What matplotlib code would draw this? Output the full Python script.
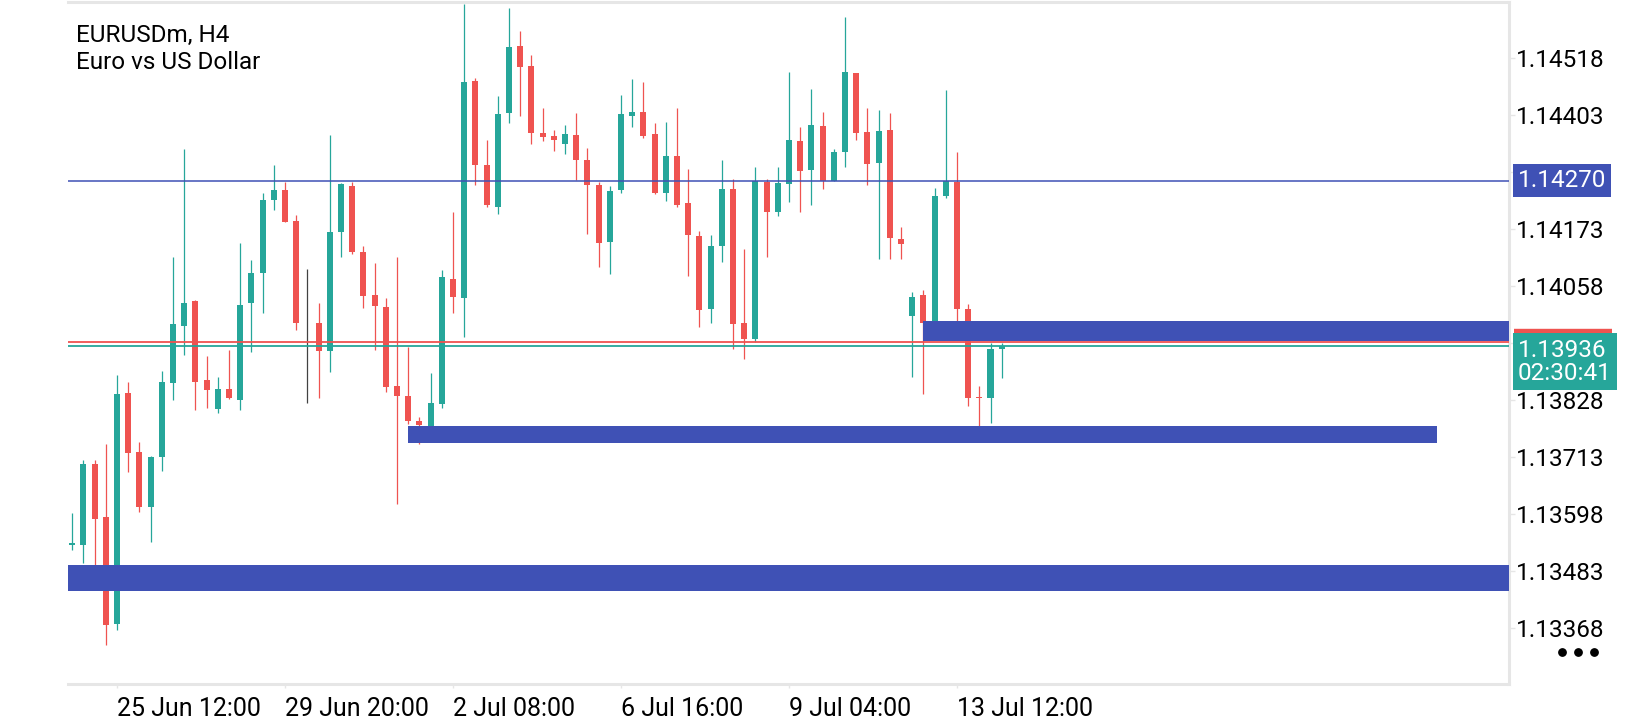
import matplotlib
matplotlib.use("Agg")
import matplotlib.pyplot as plt
import matplotlib.transforms as mtransforms

plt.rcParams['font.family'] = ['Roboto', 'DejaVu Sans']

# H4 candles
opens = [1.13535, 1.13535, 1.13698, 1.13592, 1.13376, 1.13841, 1.13723, 1.13611, 1.13713, 1.13861,
         1.13977, 1.14027, 1.13867, 1.13810, 1.13850, 1.13828, 1.14024, 1.14084, 1.14232, 1.14251,
         1.14188, 1.13984, 1.13982, 1.13927, 1.14166, 1.14259, 1.14126, 1.14039, 1.14016, 1.13855,
         1.13836, 1.13785, 1.13774, 1.13819, 1.14072, 1.14033, 1.14472, 1.14302, 1.14218, 1.14406,
         1.14543, 1.14501, 1.14367, 1.14361, 1.14345, 1.14362, 1.14312, 1.14262, 1.14147, 1.14251,
         1.14401, 1.14409, 1.14365, 1.14246, 1.14320, 1.14226, 1.14159, 1.14011, 1.14138, 1.14254,
         1.13982, 1.13950, 1.14268, 1.14208, 1.14264, 1.14351, 1.14291, 1.14381, 1.14270, 1.14328,
         1.14488, 1.14368, 1.14305, 1.14373, 1.14153, 1.13997, 1.14039, 1.13982, 1.14240, 1.14268,
         1.14011, 1.13833, 1.13831, 1.13930]
highs = [1.13600, 1.13706, 1.13706, 1.13739, 1.13878, 1.13863, 1.13743, 1.13715, 1.13886, 1.14117,
         1.14335, 1.14030, 1.13916, 1.13873, 1.13929, 1.14145, 1.14111, 1.14245, 1.14302, 1.14268,
         1.14200, 1.14092, 1.14024, 1.14362, 1.14266, 1.14268, 1.14139, 1.14105, 1.14034, 1.14117,
         1.13935, 1.13794, 1.13882, 1.14089, 1.14208, 1.14626, 1.14478, 1.14352, 1.14442, 1.14618,
         1.14573, 1.14524, 1.14417, 1.14373, 1.14382, 1.14406, 1.14336, 1.14268, 1.14259, 1.14443,
         1.14476, 1.14469, 1.14387, 1.14389, 1.14417, 1.14294, 1.14168, 1.14161, 1.14312, 1.14274,
         1.14133, 1.14298, 1.14274, 1.14298, 1.14490, 1.14378, 1.14456, 1.14409, 1.14334, 1.14601,
         1.14488, 1.14417, 1.14413, 1.14407, 1.14177, 1.14045, 1.14050, 1.14255, 1.14453, 1.14328,
         1.14022, 1.13856, 1.13943, 1.13943]
lows = [1.13524, 1.13499, 1.13494, 1.13332, 1.13363, 1.13683, 1.13602, 1.13541, 1.13685, 1.13828,
        1.13918, 1.13808, 1.13811, 1.13801, 1.13829, 1.13808, 1.13924, 1.14003, 1.14211, 1.14187,
        1.13969, 1.13822, 1.13832, 1.13884, 1.14117, 1.14122, 1.14013, 1.13928, 1.13844, 1.13617,
        1.13778, 1.13738, 1.13770, 1.13812, 1.14003, 1.13954, 1.14262, 1.14217, 1.14202, 1.14387,
        1.14400, 1.14345, 1.14351, 1.14331, 1.14325, 1.14272, 1.14163, 1.14095, 1.14082, 1.14246,
        1.14378, 1.14357, 1.14244, 1.14229, 1.14217, 1.14078, 1.13975, 1.13982, 1.14107, 1.13930,
        1.13910, 1.13944, 1.14117, 1.14198, 1.14228, 1.14206, 1.14222, 1.14253, 1.14270, 1.14298,
        1.14352, 1.14262, 1.14113, 1.14113, 1.14113, 1.13874, 1.13839, 1.13978, 1.14236, 1.13986,
        1.13816, 1.13774, 1.13781, 1.13872]
closes = [1.13538, 1.13698, 1.13588, 1.13374, 1.13839, 1.13721, 1.13611, 1.13713, 1.13863, 1.13980,
          1.14024, 1.13863, 1.13848, 1.13850, 1.13831, 1.14020, 1.14084, 1.14231, 1.14251, 1.14187,
          1.13982, 1.13984, 1.13927, 1.14167, 1.14263, 1.14126, 1.14037, 1.14017, 1.13853, 1.13836,
          1.13785, 1.13777, 1.13821, 1.14075, 1.14035, 1.14469, 1.14302, 1.14221, 1.14405, 1.14540,
          1.14499, 1.14367, 1.14359, 1.14352, 1.14365, 1.14312, 1.14261, 1.14145, 1.14249, 1.14405,
          1.14409, 1.14361, 1.14245, 1.14320, 1.14222, 1.14161, 1.14009, 1.14139, 1.14254, 1.13981,
          1.13950, 1.14270, 1.14206, 1.14266, 1.14352, 1.14289, 1.14383, 1.14270, 1.14328, 1.14490,
          1.14367, 1.14303, 1.14371, 1.14154, 1.14142, 1.14036, 1.13982, 1.14239, 1.14270, 1.14011,
          1.13831, 1.13831, 1.13931, 1.13936]

time_ticks = [4, 19, 34, 49, 64, 79]
time_labels = ['25 Jun 12:00', '29 Jun 20:00', '2 Jul 08:00', '6 Jul 16:00', '9 Jul 04:00', '13 Jul 12:00']
price_ticks = [1.13368, 1.13483, 1.13598, 1.13713, 1.13828, 1.13943, 1.14058, 1.14173, 1.14288, 1.14403, 1.14518]

level = 1.14270
bid = 1.13936
ask = 1.13944
countdown = '02:30:41'

# supply/demand zones: start bar, end bar, low, high
zone_start = [76, 30, -0.38]
zone_end = [128.3, 121.9, 128.3]
zone_low = [1.13946, 1.13740, 1.13441]
zone_high = [1.13986, 1.13774, 1.13494]

up = '#26a69a'
down = '#ef5350'
blue = '#3f51b5'
frame = '#e6e6e6'

fig = plt.figure(figsize=(16.4, 7.2), dpi=100)
ax = fig.add_axes([68 / 1640, 1 - 684 / 720, (1509 - 68) / 1640, 682 / 720])
ax.set_xlim(-0.38, 128.3)
ax.set_ylim(1.13254, 1.14631)

for i in range(len(opens)):
    o, h, l, c = opens[i], highs[i], lows[i], closes[i]
    if c > o:
        col = up
    elif c < o:
        col = down
    else:
        col = '#424242'
    ax.vlines(i, l, h, color=col, lw=0.9, zorder=3)
    ax.bar(i, max(abs(c - o), 0.000012), bottom=min(o, c), width=0.54, color=col, zorder=3)

for s, e, lo, hi in zip(zone_start, zone_end, zone_low, zone_high):
    ax.fill_between([s, e], lo, hi, color=blue, lw=0, zorder=4)

ax.axhline(level, color=blue, lw=1.1, zorder=5)
ax.axhline(ask, color=down, lw=1.3, zorder=5)
ax.axhline(bid, color=up, lw=1.3, zorder=5)

for side in ['top', 'right', 'bottom']:
    ax.spines[side].set_color(frame)
    ax.spines[side].set_linewidth(2.2)
ax.spines['left'].set_visible(False)

# the 1.13943 label sits under the bid box, so it is left blank
ytick_text = ['' if abs(p - 1.13943) < 1e-6 else '%.5f' % p for p in price_ticks]
ax.yaxis.tick_right()
ax.set_yticks(price_ticks, ytick_text)
ax.set_xticks(time_ticks, time_labels, ha='left')
ax.tick_params(axis='y', length=4, width=1, color=frame, pad=1, labelsize=17.5, labelcolor='black')
ax.tick_params(axis='x', length=3, width=1, color=frame, pad=6, labelsize=18, labelcolor='black')

ax.text(0.0055, 0.941, 'EURUSDm, H4', transform=ax.transAxes, fontsize=17.5, va='baseline')
ax.text(0.0055, 0.902, 'Euro vs US Dollar', transform=ax.transAxes, fontsize=17.5, va='baseline')

# price labels on the right scale
trans = mtransforms.blended_transform_factory(ax.transAxes, ax.transData)
ax.annotate('%.5f' % level, xy=(1, level), xycoords=trans, xytext=(6.5, 0), textcoords='offset points',
            va='center', ha='left', color='white', fontsize=17.5, zorder=10, annotation_clip=False,
            bbox=dict(boxstyle='square,pad=0.2', fc=blue, ec='none'))
# ask tag, almost fully hidden by the bid tag
ax.plot([1.0035, 1.0715], [ask, ask], transform=trans, color=down, lw=19, solid_capstyle='butt',
        clip_on=False, zorder=9)
ax.annotate('%.5f\n%s' % (bid, countdown), xy=(1, bid), xycoords=trans, xytext=(6.5, 5.5),
            textcoords='offset points', va='top', ha='left', color='white', fontsize=17.5, zorder=11,
            annotation_clip=False, linespacing=1.02,
            bbox=dict(boxstyle='square,pad=0.22', fc=up, ec='none'))

ax.scatter([1.0368, 1.0479, 1.0590], [0.0474] * 3, s=28, color='black', transform=ax.transAxes, clip_on=False)

fig.savefig('out.png', dpi=100, facecolor='white')
